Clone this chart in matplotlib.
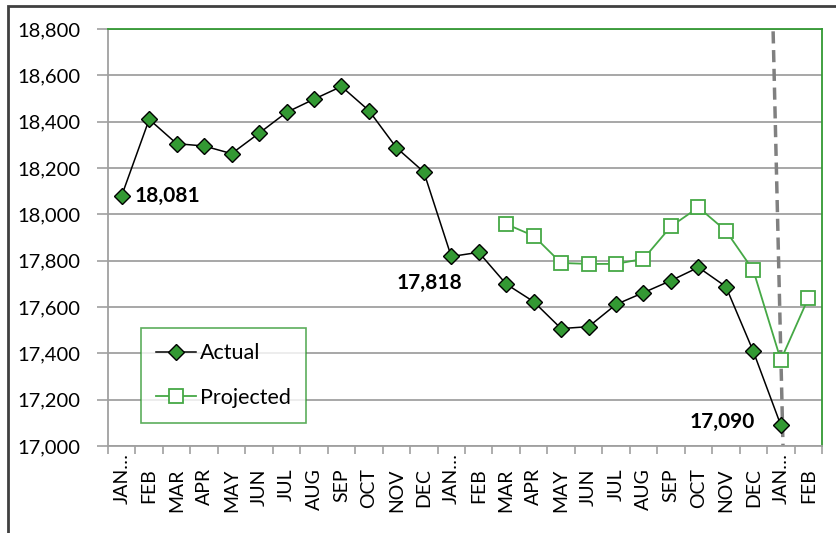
import matplotlib.pyplot as plt
from matplotlib.patches import Rectangle
from matplotlib.transforms import ScaledTranslation

months = ['JAN…', 'FEB', 'MAR', 'APR', 'MAY', 'JUN', 'JUL', 'AUG', 'SEP', 'OCT', 'NOV', 'DEC',
          'JAN…', 'FEB', 'MAR', 'APR', 'MAY', 'JUN', 'JUL', 'AUG', 'SEP', 'OCT', 'NOV', 'DEC',
          'JAN…', 'FEB']
actual = [18081, 18410, 18305, 18295, 18262, 18350, 18440, 18497, 18552, 18448, 18288, 18183,
          17818, 17836, 17699, 17623, 17507, 17515, 17611, 17662, 17714, 17771, 17688, 17408,
          17090]
proj_start = 14
projected = [17958, 17907, 17790, 17786, 17786, 17808, 17948, 18030, 17929, 17758, 17371, 17638]
labels = {0: '18,081', 12: '17,818', 24: '17,090'}

plt.rcParams['font.family'] = ['Lato', 'DejaVu Sans']

GREEN = '#339933'
LGREEN = '#45a845'
GRID = '#a0a0a0'

fig = plt.figure(figsize=(8.37, 5.33), dpi=100)
ax = fig.add_axes([108 / 837, 1 - 446 / 533, 714 / 837, 417 / 533])

x_act = list(range(len(actual)))
x_proj = list(range(proj_start, proj_start + len(projected)))

ax.plot(x_act, actual, color='black', lw=1.1, marker='D', ms=8, mfc=GREEN, mec='black',
        mew=1.0, label='Actual', zorder=4)
ax.plot(x_proj, projected, color=LGREEN, lw=1.3, marker='s', ms=10, mfc='white', mec=LGREEN,
        mew=1.3, label='Projected', zorder=3)

# dashed marker line at the last actual point
ax.plot([23.72, 24.08], [18790, 17000], color='#808080', lw=2.5, ls=(0, (3.5, 1.9)), zorder=2)

# value labels
ax.text(0 + 0.45, actual[0], labels[0], fontsize=15, fontweight='bold', va='center', ha='left')
ax.text(12 + 0.42, actual[12] - 115, labels[12], fontsize=15, fontweight='bold', va='center', ha='right')
ax.text(24 - 0.95, actual[24] + 15, labels[24], fontsize=15, fontweight='bold', va='center', ha='right')

ax.set_xlim(-0.5, len(months) - 0.5)
ax.set_ylim(17000, 18800)
ax.set_yticks(range(17000, 18801, 200))
ax.set_yticklabels([f'{v:,}' for v in range(17000, 18801, 200)], fontsize=14.5)
ax.set_xticks(range(len(months)))
ax.set_xticklabels(months, rotation=90, fontsize=14)
ax.set_xticks([i - 0.5 for i in range(len(months) + 1)], minor=True)
ax.tick_params(axis='x', which='major', length=0, pad=16)
ax.tick_params(axis='x', which='minor', length=6, color=GRID, width=1.2)
ax.tick_params(axis='y', length=8, color=GRID, width=1.2, pad=12)
for lab in ax.get_xticklabels():
    if lab.get_text().startswith('JAN'):
        lab.set_transform(lab.get_transform() + ScaledTranslation(0, 11 / 72, fig.dpi_scale_trans))

ax.grid(axis='y', color=GRID, lw=1.3, zorder=0)
ax.set_axisbelow(True)
for s in ['left', 'bottom']:
    ax.spines[s].set_color(GRID)
    ax.spines[s].set_linewidth(1.3)
for s in ['top', 'right']:
    ax.spines[s].set_color(GREEN)
    ax.spines[s].set_linewidth(1.3)

leg = ax.legend(loc='upper left', bbox_to_anchor=((141 - 108) / 714, (446 - 328) / 417),
                fontsize=15.5, frameon=True, fancybox=False, edgecolor=GREEN,
                handlelength=1.85, handletextpad=0.2, labelspacing=1.15, borderpad=0.7,
                borderaxespad=0)
leg.get_frame().set_linewidth(1.2)

# outer chart frame
fig.patches.append(Rectangle((8 / 837, -0.1), 1.1, 1 - 6 / 533 + 0.1, transform=fig.transFigure,
                             fill=False, edgecolor='#404040', lw=2))

plt.savefig('out.png', dpi=100)
